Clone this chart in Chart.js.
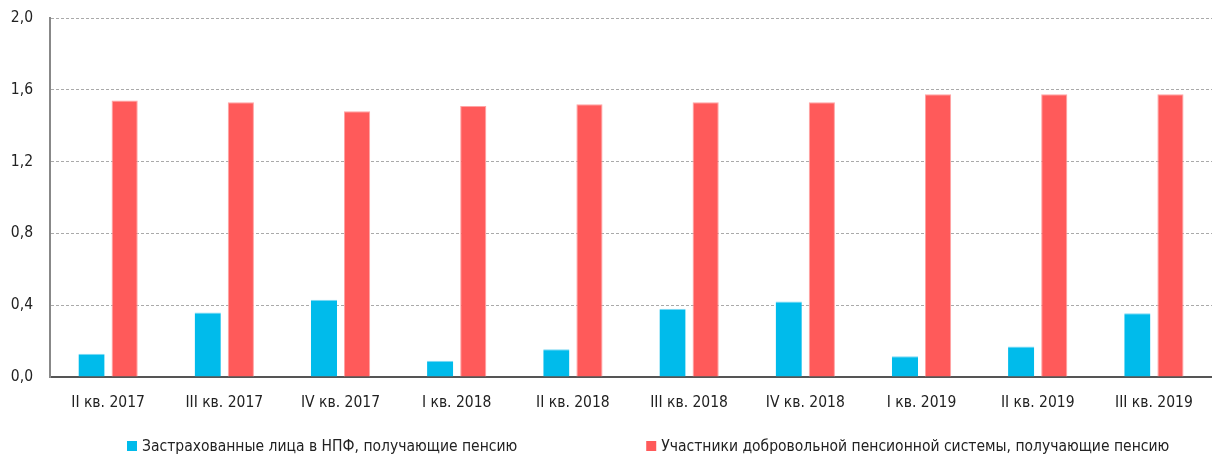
<!DOCTYPE html>
<html>
<head>
<meta charset="utf-8">
<script src="https://cdn.jsdelivr.net/npm/chart.js@4"></script>
<style>
  body { margin: 0; background: #fff; }
  #wrap { position: relative; width: 1212px; height: 460px; }
</style>
</head>
<body>
<div id="wrap"><canvas id="chart"></canvas></div>
<script>
// quarters on the x axis
const quarters = ["II кв. 2017", "III кв. 2017", "IV кв. 2017", "I кв. 2018", "II кв. 2018",
  "III кв. 2018", "IV кв. 2018", "I кв. 2019", "II кв. 2019", "III кв. 2019"];

// values
const insuredNpf = [0.13, 0.36, 0.43, 0.09, 0.155, 0.38, 0.42, 0.115, 0.17, 0.355];
const voluntaryParticipants = [1.54, 1.53, 1.48, 1.51, 1.52, 1.53, 1.53, 1.575, 1.575, 1.575];

const seriesNames = ["Застрахованные лица в НПФ, получающие пенсию",
  "Участники добровольной пенсионной системы, получающие пенсию"];

const yTicks = [0, 0.4, 0.8, 1.2, 1.6, 2.0];

const font = "'DejaVu Sans Condensed', sans-serif";
const fontSize = 15.5;

// legend drawn by hand so the two items can sit far apart on one row
const bottomLegend = {
  id: "bottomLegend",
  afterDraw(chart) {
    const c = chart.ctx;
    const box = 10, gapText = 5, gapItems = 129;
    c.save();
    c.font = fontSize + "px " + font;
    c.textBaseline = "middle";
    let x = 127;
    const y = 446;
    chart.data.datasets.forEach((ds) => {
      c.fillStyle = ds.backgroundColor;
      c.fillRect(x, y - box / 2, box, box);
      c.fillStyle = "#222";
      c.fillText(ds.label, x + box + gapText, y + 1);
      x += box + gapText + c.measureText(ds.label).width + gapItems;
    });
    c.restore();
  },
};

const ctx = document.getElementById("chart").getContext("2d");
new Chart(ctx, {
  type: "bar",
  data: {
    labels: quarters,
    datasets: [
      {
        label: seriesNames[0],
        data: insuredNpf,
        backgroundColor: "#00bbeb",
        borderColor: "#7fd9f3",
        borderWidth: { top: 1, left: 0, right: 0, bottom: 0 },
      },
      {
        label: seriesNames[1],
        data: voluntaryParticipants,
        backgroundColor: "#ff5a5a",
        borderColor: "#ffa3a3",
        borderWidth: 1,
      },
    ],
  },
  options: {
    responsive: true,
    maintainAspectRatio: false,
    animation: false,
    categoryPercentage: 0.57,
    barPercentage: 0.79,
    layout: { padding: { top: 18, left: 0, right: 0, bottom: 43 } },
    plugins: {
      legend: { display: false },
      tooltip: { enabled: false },
    },
    scales: {
      x: {
        afterFit: (axis) => {
          axis.height = 40;
          axis.paddingLeft = 0;
          axis.paddingRight = 0;
        },
        grid: { display: false, drawTicks: false },
        border: { display: true, color: "#555", width: 2 },
        ticks: {
          color: "#222",
          padding: 17,
          maxRotation: 0,
          font: { family: font, size: fontSize },
        },
      },
      y: {
        min: 0,
        max: 2,
        afterBuildTicks: (axis) => {
          axis.ticks = yTicks.map((v) => ({ value: v }));
        },
        afterFit: (axis) => {
          axis.width = 50;
          axis.paddingTop = 0;
          axis.paddingBottom = 0;
        },
        grid: {
          drawTicks: false,
          color: (c) => (c.tick && c.tick.value === 0 ? "rgba(0,0,0,0)" : "#aaa"),
          lineWidth: 1,
        },
        border: { display: true, color: "#888", width: 2, dash: [3, 2] },
        ticks: {
          color: "#222",
          padding: 17,
          font: { family: font, size: fontSize },
          callback: (v) => Number(v).toFixed(1).replace(".", ","),
        },
      },
    },
  },
  plugins: [bottomLegend],
});
</script>
</body>
</html>
